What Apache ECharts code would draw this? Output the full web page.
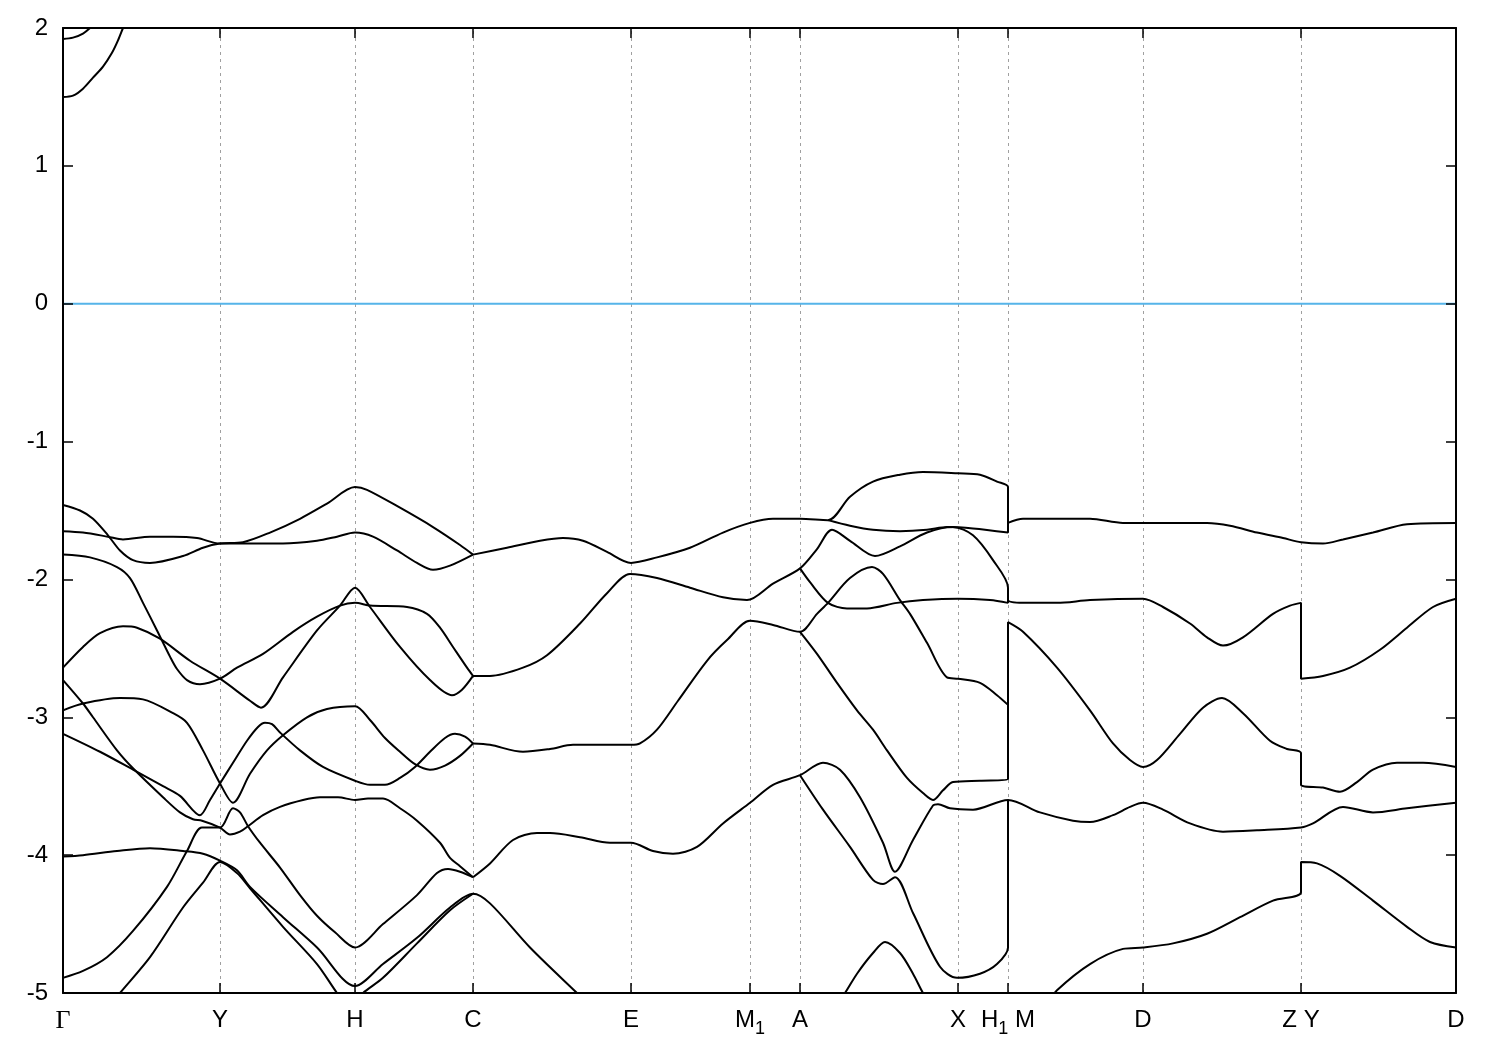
<!DOCTYPE html>
<html><head><meta charset="utf-8">
<script src="https://cdn.jsdelivr.net/npm/echarts@6/dist/echarts.min.js"></script>
<style>html,body{margin:0;padding:0;background:#fff}#c{width:1500px;height:1050px}</style>
</head><body><div id="c"></div>
<script>
// k-path positions of the high-symmetry points and their labels
const kTicks = [0, 157, 292, 410, 568, 687, 737, 895, 945, 1080, 1238, 1393];
const kLabels = ['Γ', 'Y', 'H', 'C', 'E', 'M_1', 'A', 'X', 'H_1 M', 'D', 'Z Y', 'D'];
const eMin = -5, eMax = 2, eStep = 1;
const fermiLevel = 0;

// conduction bands (Γ region)
const cond1 = [[0,1.92],[10,1.93],[20,1.96],[27,2.0],[35,2.06]];
const cond2 = [[0,1.50],[10,1.51],[20,1.56],[30,1.64],[40,1.72],[49,1.82],[55,1.91],[60,2.0],[64,2.07]];

// valence bands Γ -> Y -> H -> C
const v1 = [[0,-1.46],[17,-1.50],[30,-1.56],[45,-1.68],[57,-1.79],[70,-1.86],[87,-1.88],[120,-1.83],[140,-1.77],[157,-1.74],[180,-1.73],[207,-1.66],[237,-1.56],[264,-1.45],[292,-1.33],[304,-1.35],[337,-1.48],[370,-1.62],[397,-1.75],[410,-1.82]];
const v2 = [[0,-1.65],[20,-1.66],[45,-1.69],[60,-1.71],[87,-1.69],[110,-1.69],[134,-1.70],[157,-1.74],[187,-1.74],[220,-1.74],[254,-1.72],[274,-1.69],[292,-1.66],[310,-1.69],[334,-1.79],[354,-1.88],[370,-1.93],[387,-1.90],[410,-1.82]];
const v3 = [[0,-1.82],[27,-1.84],[54,-1.91],[67,-1.99],[80,-2.17],[94,-2.37],[107,-2.56],[114,-2.65],[124,-2.73],[137,-2.76],[157,-2.72],[174,-2.64],[200,-2.54],[230,-2.38],[254,-2.27],[277,-2.19],[292,-2.17],[307,-2.19],[344,-2.20],[364,-2.25],[377,-2.35],[390,-2.49],[404,-2.64],[410,-2.70]];
const v4 = [[0,-2.64],[20,-2.49],[37,-2.39],[60,-2.34],[74,-2.35],[97,-2.43],[127,-2.59],[157,-2.72],[187,-2.88],[198,-2.93],[220,-2.71],[254,-2.37],[277,-2.19],[292,-2.06],[307,-2.20],[337,-2.49],[367,-2.73],[389,-2.84],[399,-2.80],[410,-2.70]];
const v5 = [[0,-2.73],[20,-2.90],[30,-3.00],[54,-3.24],[70,-3.37],[100,-3.58],[117,-3.69],[130,-3.74],[139,-3.75],[157,-3.80],[167,-3.85],[177,-3.83],[185,-3.79],[200,-3.71],[217,-3.65],[240,-3.60],[257,-3.58],[275,-3.58],[292,-3.60],[305,-3.59],[320,-3.59],[337,-3.66],[354,-3.75],[377,-3.91],[387,-4.02],[397,-4.08],[410,-4.16]];
const v6 = [[0,-2.95],[20,-2.90],[57,-2.86],[80,-2.87],[110,-2.97],[124,-3.04],[140,-3.24],[157,-3.48],[170,-3.62],[187,-3.41],[204,-3.24],[220,-3.13],[244,-3.00],[264,-2.94],[292,-2.92],[307,-3.02],[322,-3.15],[337,-3.25],[352,-3.34],[367,-3.38],[382,-3.35],[397,-3.28],[410,-3.19]];
const v7 = [[0,-3.12],[37,-3.25],[70,-3.38],[100,-3.50],[117,-3.57],[137,-3.71],[147,-3.60],[157,-3.48],[170,-3.33],[184,-3.17],[195,-3.07],[202,-3.04],[209,-3.05],[217,-3.11],[237,-3.24],[260,-3.36],[292,-3.46],[307,-3.49],[322,-3.49],[337,-3.44],[352,-3.36],[367,-3.25],[382,-3.15],[392,-3.12],[402,-3.14],[410,-3.19]];
const v8 = [[0,-4.89],[20,-4.84],[44,-4.74],[70,-4.55],[104,-4.23],[124,-3.97],[139,-3.80],[157,-3.80],[170,-3.66],[177,-3.69],[185,-3.79],[197,-3.91],[217,-4.09],[237,-4.29],[254,-4.44],[272,-4.56],[292,-4.67],[320,-4.50],[354,-4.29],[374,-4.13],[385,-4.10],[397,-4.12],[410,-4.16]];
const v9 = [[0,-4.01],[20,-4.00],[54,-3.97],[87,-3.95],[120,-3.97],[140,-3.99],[157,-4.04],[174,-4.11],[187,-4.23],[220,-4.45],[254,-4.67],[292,-4.95],[320,-4.79],[354,-4.60],[387,-4.38],[410,-4.28],[427,-4.35],[467,-4.67],[514,-5.00],[530,-5.11]];
const v10 = [[47,-5.09],[57,-5.00],[87,-4.74],[120,-4.38],[140,-4.20],[157,-4.05],[174,-4.13],[187,-4.24],[220,-4.52],[254,-4.79],[274,-5.00],[285,-5.10]];
const v11 = [[290,-5.08],[300,-5.00],[320,-4.89],[354,-4.64],[387,-4.40],[410,-4.28]];

// valence bands C -> E -> M1 -> A -> X -> H1 | M -> D -> Z | Y -> D
const w1 = [[410,-1.82],[444,-1.77],[477,-1.72],[500,-1.70],[520,-1.72],[544,-1.80],[568,-1.88],[594,-1.84],[627,-1.77],[660,-1.66],[687,-1.59],[710,-1.56],[737,-1.56],[765,-1.57],[787,-1.40],[810,-1.29],[837,-1.24],[860,-1.22],[895,-1.23],[917,-1.24],[934,-1.29],[945,-1.33],[945,-1.59],[960,-1.56],[994,-1.56],[1027,-1.56],[1060,-1.59],[1080,-1.59],[1110,-1.59],[1144,-1.59],[1167,-1.61],[1194,-1.66],[1220,-1.70],[1238,-1.73],[1260,-1.74],[1280,-1.71],[1310,-1.66],[1344,-1.60],[1393,-1.59]];
const w2 = [[765,-1.57],[787,-1.61],[810,-1.64],[837,-1.65],[864,-1.64],[884,-1.62],[910,-1.63],[945,-1.66],[945,-1.59]];
const w3 = [[410,-2.70],[427,-2.70],[460,-2.64],[484,-2.55],[517,-2.32],[544,-2.10],[567,-1.96],[594,-1.99],[627,-2.06],[660,-2.13],[684,-2.15],[710,-2.03],[737,-1.92],[754,-1.78],[769,-1.64],[787,-1.72],[812,-1.83],[837,-1.76],[864,-1.66],[890,-1.62],[910,-1.68],[930,-1.86],[945,-2.06],[945,-2.15],[960,-2.17],[994,-2.17],[1027,-2.15],[1080,-2.14],[1100,-2.20],[1127,-2.32],[1144,-2.42],[1160,-2.48],[1180,-2.42],[1210,-2.25],[1227,-2.19],[1238,-2.17],[1238,-2.72],[1260,-2.70],[1287,-2.64],[1317,-2.51],[1344,-2.35],[1370,-2.20],[1393,-2.14]];
const w4 = [[737,-1.92],[747,-2.02],[765,-2.17],[784,-2.21],[804,-2.21],[834,-2.17],[860,-2.15],[895,-2.14],[927,-2.15],[945,-2.17],[945,-2.15]];
const w5 = [[410,-3.19],[427,-3.20],[460,-3.25],[487,-3.23],[510,-3.20],[544,-3.20],[568,-3.20],[577,-3.19],[594,-3.09],[615,-2.88],[644,-2.59],[664,-2.44],[687,-2.30],[710,-2.33],[737,-2.38],[754,-2.25],[765,-2.17],[787,-1.99],[809,-1.91],[820,-1.96],[837,-2.15],[847,-2.25],[864,-2.46],[884,-2.71],[895,-2.72],[917,-2.75],[934,-2.84],[945,-2.91],[945,-2.31],[960,-2.38],[994,-2.64],[1027,-2.95],[1050,-3.19],[1067,-3.31],[1080,-3.36],[1094,-3.31],[1117,-3.12],[1140,-2.93],[1159,-2.86],[1180,-2.97],[1207,-3.17],[1224,-3.23],[1238,-3.26],[1238,-3.49],[1260,-3.51],[1277,-3.54],[1294,-3.47],[1310,-3.38],[1334,-3.33],[1360,-3.33],[1393,-3.36]];
const w6 = [[737,-2.38],[754,-2.54],[774,-2.75],[794,-2.95],[810,-3.09],[824,-3.24],[844,-3.44],[860,-3.55],[870,-3.60],[880,-3.53],[890,-3.47],[917,-3.46],[945,-3.45],[945,-2.91]];
const w7 = [[410,-4.16],[427,-4.06],[450,-3.89],[474,-3.84],[487,-3.84],[517,-3.87],[547,-3.91],[568,-3.91],[590,-3.97],[610,-3.99],[634,-3.94],[660,-3.77],[687,-3.62],[710,-3.49],[737,-3.42],[760,-3.33],[777,-3.38],[797,-3.58],[820,-3.91],[832,-4.12],[850,-3.89],[870,-3.64],[875,-3.63],[887,-3.66],[910,-3.67],[945,-3.60],[977,-3.69],[1010,-3.75],[1027,-3.76],[1050,-3.71],[1067,-3.65],[1080,-3.62],[1100,-3.67],[1127,-3.77],[1160,-3.83],[1194,-3.82],[1238,-3.80],[1250,-3.77],[1280,-3.65],[1310,-3.69],[1344,-3.66],[1393,-3.62]];
const w8 = [[737,-3.42],[760,-3.67],[787,-3.94],[810,-4.18],[820,-4.21],[832,-4.16],[850,-4.42],[877,-4.81],[894,-4.89],[917,-4.86],[934,-4.79],[945,-4.67],[945,-3.60]];
const w9 = [[775,-5.06],[782,-5.00],[794,-4.86],[810,-4.71],[822,-4.63],[837,-4.71],[850,-4.86],[860,-5.00],[866,-5.06]];
const w10 = [[987,-5.06],[994,-4.98],[1027,-4.79],[1060,-4.68],[1080,-4.67],[1110,-4.64],[1144,-4.57],[1177,-4.45],[1210,-4.33],[1238,-4.27],[1238,-4.05],[1254,-4.06],[1277,-4.15],[1310,-4.33],[1344,-4.52],[1367,-4.63],[1393,-4.67]];

const bandList = [cond1, cond2, v1, v2, v3, v4, v5, v6, v7, v8, v9, v10, v11, w1, w2, w3, w4, w5, w6, w7, w8, w9, w10];

const FONT = 'Liberation Sans, Arial, sans-serif';
const TICK_LEN = 10;
function kLabel(v) {
  let best = 0;
  kTicks.forEach((t, i) => { if (Math.abs(t - v) < Math.abs(kTicks[best] - v)) best = i; });
  const s = kLabels[best];
  if (s === 'Γ') return '{g|Γ}';
  return s.split(/_(\w)/).map((part, i) => part === '' ? '' : (i % 2 ? '{s|' + part + '}' : '{n|' + part + '}')).join('');
}

const chart = echarts.init(document.getElementById('c'), null, {renderer: 'canvas'});
const axisLine = {show: true, onZero: false, lineStyle: {color: '#000', width: 2}};
const tickStyle = {show: true, inside: true, length: TICK_LEN, lineStyle: {color: '#000', width: 1.5}};
const xBase = {type: 'value', z: 6, min: kTicks[0], max: kTicks[kTicks.length - 1], axisLine, splitLine: {show: false}};
const yBase = {type: 'value', z: 6, min: eMin, max: eMax, interval: eStep, axisLine, splitLine: {show: false}};

const series = bandList.map(d => ({
  type: 'line', data: d, symbol: 'none', showSymbol: false, smooth: 0.3, clip: true,
  silent: true, animation: false, z: 3,
  lineStyle: {color: '#000', width: 2}
}));
series.push({
  type: 'line', data: [[kTicks[0], fermiLevel], [kTicks[kTicks.length - 1], fermiLevel]],
  symbol: 'none', silent: true, animation: false, z: 2,
  lineStyle: {color: '#56b4e9', width: 2},
  markLine: {
    symbol: 'none', silent: true, animation: false, label: {show: false}, z: 1,
    lineStyle: {color: '#a0a0a0', width: 1, type: [3, 4]},
    data: kTicks.slice(1, -1).map(k => ({xAxis: k}))
  }
});

chart.setOption({
  backgroundColor: '#fff',
  animation: false,
  grid: {left: 63, right: 44, top: 28, bottom: 57, containLabel: false},
  xAxis: [
    Object.assign({}, xBase, {
      position: 'bottom',
      axisTick: {show: false},
      axisLabel: {
        customValues: kTicks, formatter: kLabel, margin: 15, color: '#000',
        fontFamily: FONT, fontSize: 24,
        rich: {
          n: {fontFamily: FONT, fontSize: 24, color: '#000', verticalAlign: 'top', lineHeight: 26},
          g: {fontFamily: 'Liberation Serif, serif', fontSize: 26, color: '#000', verticalAlign: 'top', lineHeight: 26},
          s: {fontFamily: FONT, fontSize: 18, color: '#000', verticalAlign: 'top', lineHeight: 20, padding: [12, 0, 0, 0]}
        }
      }
    }),
    Object.assign({}, xBase, {
      position: 'top',
      axisTick: {show: false},
      axisLabel: {show: false}
    })
  ],
  yAxis: [
    Object.assign({}, yBase, {
      position: 'left',
      axisTick: tickStyle,
      axisLabel: {margin: 15, color: '#000', fontFamily: FONT, fontSize: 24}
    }),
    Object.assign({}, yBase, {
      position: 'right',
      axisTick: tickStyle,
      axisLabel: {show: false}
    })
  ],
  series
});

// inward x ticks (bottom and top) at the high-symmetry points, placed via the axis scale
const yBottom = chart.convertToPixel({yAxisIndex: 0}, eMin);
const yTop = chart.convertToPixel({yAxisIndex: 0}, eMax);
const tickEls = [];
kTicks.forEach(k => {
  const x = chart.convertToPixel({xAxisIndex: 0}, k);
  tickEls.push({type: 'line', silent: true, z: 10, shape: {x1: x, y1: yBottom, x2: x, y2: yBottom - TICK_LEN}, style: {stroke: '#000', lineWidth: 1.5}});
  tickEls.push({type: 'line', silent: true, z: 10, shape: {x1: x, y1: yTop, x2: x, y2: yTop + TICK_LEN}, style: {stroke: '#000', lineWidth: 1.5}});
});
chart.setOption({graphic: tickEls});
</script>
</body></html>
